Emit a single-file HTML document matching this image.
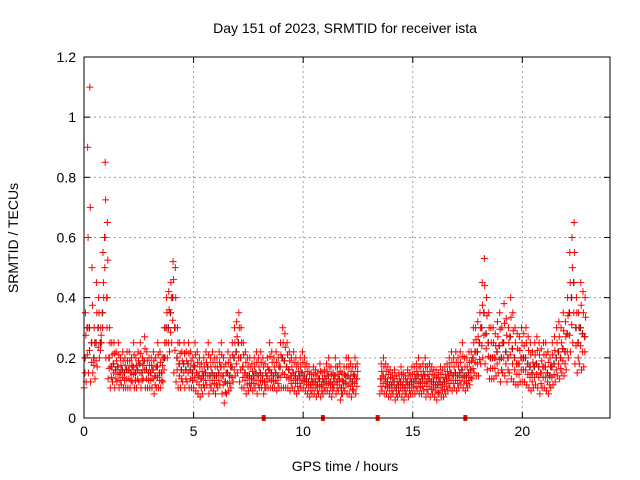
<!DOCTYPE html>
<html><head><meta charset="utf-8"><style>
body{margin:0;background:#fff;}
svg{display:block;font-family:"Liberation Sans",sans-serif;}
</style></head><body>
<svg id="chart" width="640" height="480" viewBox="0 0 640 480">
<text x="345" y="33" font-size="14" text-anchor="middle">Day 151 of 2023, SRMTID for receiver ista</text>
<text transform="translate(18,238) rotate(-90)" font-size="14" text-anchor="middle">SRMTID / TECUs</text>
<text x="345" y="471" font-size="14" text-anchor="middle">GPS time / hours</text>
<g id="grid"></g><g id="axes"></g><g id="marks"></g>
<rect x="84" y="57" width="526" height="361" fill="none" stroke="#000" stroke-width="1"/>
</svg>
<script>
const xTicks=[0,5,10,15,20];
const yTicks=[0,0.2,0.4,0.6,0.8,1,1.2];
const yTickLabels=["0","0.2","0.4","0.6","0.8","1","1.2"];
const gapMarkers=[8.2,10.9,13.4,17.4];
const hiVals=[0.35,0.9,1.1,0.5,0.3,0.45,0.4,0.3,0.55,0.85,
0.65,0.3,0.25,0.25,0.22,0.25,0.2,0.22,0.2,0.22,
0.22,0.2,0.25,0.2,0.22,0.25,0.2,0.27,0.22,0.2,
0.2,0.22,0.2,0.25,0.22,0.2,0.3,0.4,0.42,0.45,
0.52,0.5,0.3,0.25,0.22,0.25,0.22,0.25,0.22,0.2,
0.25,0.22,0.2,0.18,0.2,0.22,0.25,0.2,0.22,0.2,
0.2,0.22,0.25,0.2,0.18,0.22,0.2,0.25,0.3,0.32,
0.35,0.3,0.25,0.22,0.2,0.2,0.18,0.2,0.22,0.2,
0.22,0.2,0.18,0.2,0.25,0.22,0.2,0.22,0.2,0.25,
0.3,0.28,0.25,0.22,0.2,0.22,0.2,0.18,0.2,0.22,
0.2,0.18,0.17,0.15,0.17,0.16,0.15,0.18,0.15,0.16,
0.18,0.2,0.17,0.15,0.2,0.17,0.18,0.15,0.17,0.2,
0.2,0.18,0.17,0.2,0.18,null,null,null,null,null,
null,null,null,null,null,0.18,0.2,0.18,0.17,0.16,
0.15,0.16,0.14,0.15,0.17,0.15,0.14,0.16,0.15,0.17,
0.17,0.18,0.2,0.17,0.18,0.2,0.17,0.18,0.17,0.16,
0.16,0.15,0.17,0.16,0.17,0.18,0.2,0.22,0.2,0.22,
0.2,0.22,0.25,0.2,0.2,0.22,0.22,0.3,0.3,0.32,
0.35,0.45,0.53,0.4,0.35,0.3,0.3,0.28,0.32,0.35,
0.3,0.38,0.33,0.3,0.4,0.35,0.3,0.28,0.27,0.3,
0.28,0.3,0.27,0.25,0.22,0.25,0.27,0.25,0.23,0.25,
0.25,0.22,0.2,0.25,0.27,0.3,0.32,0.3,0.35,0.32,
0.4,0.55,0.6,0.65,0.4,0.35,0.45,0.42,0.4];
const midVals=[0.2,0.3,0.3,0.25,0.2,0.25,0.3,0.25,0.35,0.6,
0.4,0.2,0.17,0.18,0.16,0.17,0.15,0.16,0.15,0.16,
0.16,0.15,0.17,0.15,0.16,0.18,0.15,0.19,0.16,0.15,
0.15,0.16,0.14,0.17,0.15,0.15,0.2,0.3,0.3,0.35,
0.4,0.3,0.2,0.18,0.16,0.18,0.16,0.18,0.16,0.15,
0.17,0.15,0.14,0.13,0.14,0.15,0.17,0.14,0.15,0.14,
0.14,0.15,0.17,0.14,0.12,0.15,0.14,0.17,0.2,0.22,
0.25,0.2,0.17,0.15,0.14,0.14,0.13,0.14,0.15,0.14,
0.15,0.14,0.12,0.14,0.16,0.15,0.14,0.15,0.14,0.17,
0.2,0.19,0.17,0.16,0.14,0.15,0.14,0.13,0.14,0.15,
0.14,0.13,0.12,0.11,0.12,0.12,0.11,0.13,0.11,0.12,
0.13,0.14,0.12,0.11,0.14,0.12,0.13,0.1,0.12,0.14,
0.14,0.13,0.12,0.14,0.13,null,null,null,null,null,
null,null,null,null,null,0.13,0.14,0.13,0.12,0.11,
0.11,0.12,0.1,0.11,0.12,0.11,0.1,0.12,0.11,0.12,
0.12,0.13,0.14,0.12,0.13,0.14,0.12,0.13,0.12,0.12,
0.11,0.11,0.12,0.11,0.12,0.13,0.14,0.15,0.14,0.15,
0.14,0.15,0.16,0.14,0.14,0.15,0.16,0.2,0.22,0.22,
0.25,0.3,0.35,0.28,0.25,0.2,0.2,0.2,0.22,0.24,
0.2,0.25,0.22,0.2,0.27,0.23,0.2,0.18,0.18,0.2,
0.2,0.2,0.18,0.17,0.15,0.17,0.18,0.17,0.15,0.17,
0.17,0.15,0.14,0.17,0.18,0.2,0.22,0.2,0.23,0.22,
0.28,0.35,0.4,0.45,0.3,0.25,0.3,0.28,0.27];
const loVals=[0.1,0.12,0.15,0.12,0.15,0.13,0.17,0.2,0.25,0.4,
0.2,0.13,0.1,0.12,0.1,0.12,0.1,0.11,0.1,0.1,
0.1,0.1,0.12,0.1,0.1,0.12,0.1,0.13,0.1,0.1,
0.1,0.1,0.08,0.1,0.1,0.1,0.12,0.2,0.2,0.22,
0.25,0.15,0.12,0.1,0.1,0.12,0.1,0.12,0.1,0.1,
0.1,0.09,0.08,0.07,0.08,0.1,0.11,0.08,0.1,0.09,
0.08,0.1,0.11,0.08,0.05,0.08,0.09,0.1,0.12,0.14,
0.15,0.12,0.1,0.1,0.08,0.09,0.1,0.09,0.1,0.08,
0.1,0.1,0.08,0.1,0.1,0.1,0.1,0.1,0.09,0.1,
0.1,0.1,0.1,0.1,0.09,0.1,0.09,0.08,0.09,0.1,
0.1,0.09,0.08,0.07,0.08,0.08,0.07,0.08,0.07,0.08,
0.09,0.09,0.08,0.07,0.1,0.08,0.09,0.06,0.08,0.09,
0.08,0.08,0.07,0.09,0.08,null,null,null,null,null,
null,null,null,null,null,0.08,0.09,0.08,0.08,0.07,
0.07,0.08,0.06,0.07,0.08,0.07,0.06,0.08,0.07,0.08,
0.08,0.08,0.09,0.08,0.08,0.09,0.07,0.08,0.07,0.08,
0.07,0.06,0.08,0.07,0.07,0.08,0.09,0.1,0.09,0.1,
0.09,0.1,0.11,0.1,0.09,0.1,0.11,0.13,0.15,0.14,
0.14,0.18,0.2,0.18,0.16,0.13,0.13,0.13,0.14,0.15,
0.12,0.15,0.14,0.12,0.15,0.13,0.12,0.11,0.11,0.12,
0.12,0.12,0.11,0.1,0.09,0.1,0.11,0.1,0.08,0.1,
0.1,0.09,0.08,0.1,0.11,0.12,0.14,0.13,0.15,0.14,
0.16,0.2,0.22,0.25,0.18,0.15,0.18,0.16,0.17];
const timeStep=0.1;

const X0=84,X1=610,Y0=418,Y1=57,XMAX=24,YMAX=1.2;
function xs(t){return X0+(t/XMAX)*(X1-X0);}
function ys(v){return Y0-(v/YMAX)*(Y0-Y1);}
const NS="http://www.w3.org/2000/svg";
function mk(tag,attrs,parent){const e=document.createElementNS(NS,tag);for(const k in attrs)e.setAttribute(k,attrs[k]);parent.appendChild(e);return e;}
const grid=document.getElementById('grid'),axes=document.getElementById('axes'),marks=document.getElementById('marks');
yTicks.forEach((v,i)=>{
  const y=ys(v);
  if(i>0&&i<yTicks.length-1){const g=mk('line',{x1:X0,x2:X1,y1:y,y2:y,stroke:'#a0a0a0','stroke-dasharray':'2,3','stroke-width':1},grid);
  
  }
  mk('line',{x1:X0,x2:X0+6,y1:y,y2:y,stroke:'#000'},axes);
  mk('line',{x1:X1,x2:X1-6,y1:y,y2:y,stroke:'#000'},axes);
  const t=mk('text',{x:X0-8,y:y+5,'font-size':14,'text-anchor':'end'},axes);t.textContent=yTickLabels[i];
  
  
});
xTicks.forEach(v=>{
  const x=xs(v);
  if(v>0){const g=mk('line',{x1:x,x2:x,y1:Y0,y2:Y1,stroke:'#a0a0a0','stroke-dasharray':'2,3'},grid);
  
  }
  mk('line',{x1:x,x2:x,y1:Y0,y2:Y0-6,stroke:'#000'},axes);
  mk('line',{x1:x,x2:x,y1:Y1,y2:Y1+6,stroke:'#000'},axes);
  const t=mk('text',{x:x,y:Y0+18,'font-size':14,'text-anchor':'middle'},axes);t.textContent=String(v);
  
  
});
function plus(t,v,color,name){
  if(v===null||v===undefined||isNaN(v))return;
  const x=xs(t),y=ys(v);
  const p=mk('path',{d:`M${x-3.5},${y}h7M${x},${y-3.5}v7`,stroke:color,'stroke-width':1,fill:'none'},marks);
  
  
}
midVals.forEach((v,i)=>plus(i*timeStep+0.05,v,'#000','black-point'));
loVals.forEach((v,i)=>plus(i*timeStep,v,'#f00','red-point'));
midVals.forEach((v,i)=>plus(i*timeStep+0.033,v,'#f00','red-point'));
hiVals.forEach((v,i)=>plus(i*timeStep+0.066,v,'#f00','red-point'));
loVals.forEach((v,i)=>{if(v!==null)plus(i*timeStep+0.05,(v+midVals[i])/2,'#f00','red-point');});
midVals.forEach((v,i)=>{if(v!==null)plus(i*timeStep+0.085,(v+hiVals[i])/2,'#f00','red-point');});
gapMarkers.forEach(t=>{
  const r=mk('rect',{x:xs(t)-2,y:Y0-3,width:4,height:6,fill:'#f00'},marks);
  
  
});
</script>
</body></html>
